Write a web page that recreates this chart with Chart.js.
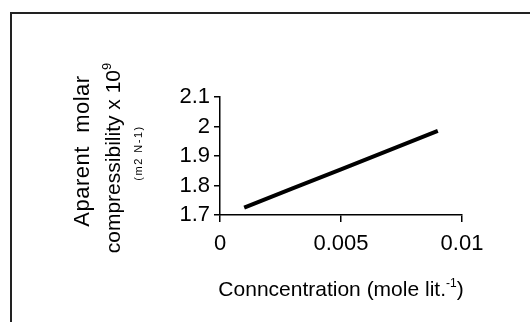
<!DOCTYPE html>
<html lang="en">
<head>
  <meta charset="UTF-8" />
  <title>Apparent molar compressibility</title>
  <script src="https://cdn.jsdelivr.net/npm/chart.js"></script>
  <style>
    body { margin: 0; background: #fff; }
    #wrap { position: relative; width: 530px; height: 322px; overflow: hidden; }
    #frame { position: absolute; left: 10px; top: 12px; width: 600px; height: 400px;
             border-left: 2px solid #222; border-top: 2px solid #222; }
    canvas { position: absolute; left: 0; top: 0; }
  </style>
</head>
<body>
  <div id="wrap">
    <div id="frame"></div>
    <canvas id="chart" width="530" height="322"></canvas>
  </div>

  <script>
    // values
    const concentration = [0.001, 0.003, 0.005, 0.007, 0.009]
    const compressibility = [1.725, 1.79, 1.855, 1.92, 1.985]

    const xTickValues = [0, 0.005, 0.01]
    const xTickLabels = ['0', '0.005', '0.01']
    const yTickValues = [1.7, 1.8, 1.9, 2.0, 2.1]
    const yTickLabels = ['1.7', '1.8', '1.9', '2', '2.1']

    const FONT = "'Liberation Sans', Arial, sans-serif"

    // axis titles with superscripts, drawn by hand
    const titles = {
      id: 'titles',
      afterDraw(chart) {
        const ctx = chart.ctx
        const area = chart.chartArea
        ctx.save()
        ctx.fillStyle = '#000'
        ctx.textBaseline = 'alphabetic'

        // x title
        const cx = (area.left + area.right) / 2
        ctx.font = '21px ' + FONT
        const a = 'Conncentration (mole lit.'
        const c = ')'
        const wa = ctx.measureText(a).width
        const wc = ctx.measureText(c).width
        ctx.font = '12px ' + FONT
        const b = '-1'
        const wb = ctx.measureText(b).width
        let x = cx - (wa + wb + wc) / 2
        ctx.textAlign = 'left'
        ctx.font = '21px ' + FONT
        ctx.fillText(a, x, 296)
        ctx.font = '12px ' + FONT
        ctx.fillText(b, x + wa, 287)
        ctx.font = '21px ' + FONT
        ctx.fillText(c, x + wa + wb, 296)

        // y title, three rotated lines
        ctx.save()
        ctx.translate(89, 151)
        ctx.rotate(-Math.PI / 2)
        ctx.textAlign = 'center'
        ctx.font = '22px ' + FONT
        ctx.letterSpacing = '0.5px'
        ctx.fillText('Aparent  molar', 0, 0)
        ctx.restore()

        ctx.save()
        ctx.translate(120, 158)
        ctx.rotate(-Math.PI / 2)
        ctx.textAlign = 'left'
        ctx.font = '21px ' + FONT
        const m = 'compressibility x 10'
        const wm = ctx.measureText(m).width
        ctx.font = '13px ' + FONT
        const ws = ctx.measureText('9').width
        const sx = -(wm + ws) / 2
        ctx.font = '21px ' + FONT
        ctx.fillText(m, sx, 0)
        ctx.font = '13px ' + FONT
        ctx.fillText('9', sx + wm, -9)
        ctx.restore()

        ctx.save()
        ctx.translate(142, 153)
        ctx.rotate(-Math.PI / 2)
        ctx.textAlign = 'center'
        ctx.font = '11px ' + FONT
        ctx.letterSpacing = '1.5px'
        ctx.fillText('(m2 N-1)', 0, 0)
        ctx.restore()

        ctx.restore()
      }
    }

    new Chart(document.getElementById('chart'), {
      type: 'line',
      data: {
        datasets: [{
          data: concentration.map((v, i) => ({ x: v, y: compressibility[i] })),
          borderColor: '#000',
          borderWidth: 4,
          borderCapStyle: 'butt',
          pointRadius: 0,
          tension: 0
        }]
      },
      options: {
        responsive: false,
        animation: false,
        layout: { padding: { top: 97, right: 68, left: 0, bottom: 0 } },
        plugins: { legend: { display: false }, tooltip: { enabled: false } },
        scales: {
          x: {
            type: 'linear',
            min: 0,
            max: 0.01,
            afterFit: s => { s.height = 107 },
            afterBuildTicks: s => { s.ticks = xTickValues.map(v => ({ value: v })) },
            grid: { drawOnChartArea: false, drawTicks: true, tickLength: 7, color: '#000', lineWidth: 1.5 },
            border: { display: true, color: '#000', width: 1.5 },
            ticks: {
              color: '#000',
              font: { family: FONT, size: 22 },
              padding: 9,
              maxRotation: 0,
              callback: (v, i) => xTickLabels[i]
            }
          },
          y: {
            min: 1.7,
            max: 2.1,
            afterFit: s => { s.width = 220 },
            afterBuildTicks: s => { s.ticks = yTickValues.map(v => ({ value: v })) },
            grid: { drawOnChartArea: false, drawTicks: true, tickLength: 6, color: '#000', lineWidth: 1.5 },
            border: { display: true, color: '#000', width: 1.5 },
            ticks: {
              color: '#000',
              font: { family: FONT, size: 22 },
              padding: 4,
              callback: (v, i) => yTickLabels[i]
            }
          }
        }
      },
      plugins: [titles]
    })
  </script>
</body>
</html>
